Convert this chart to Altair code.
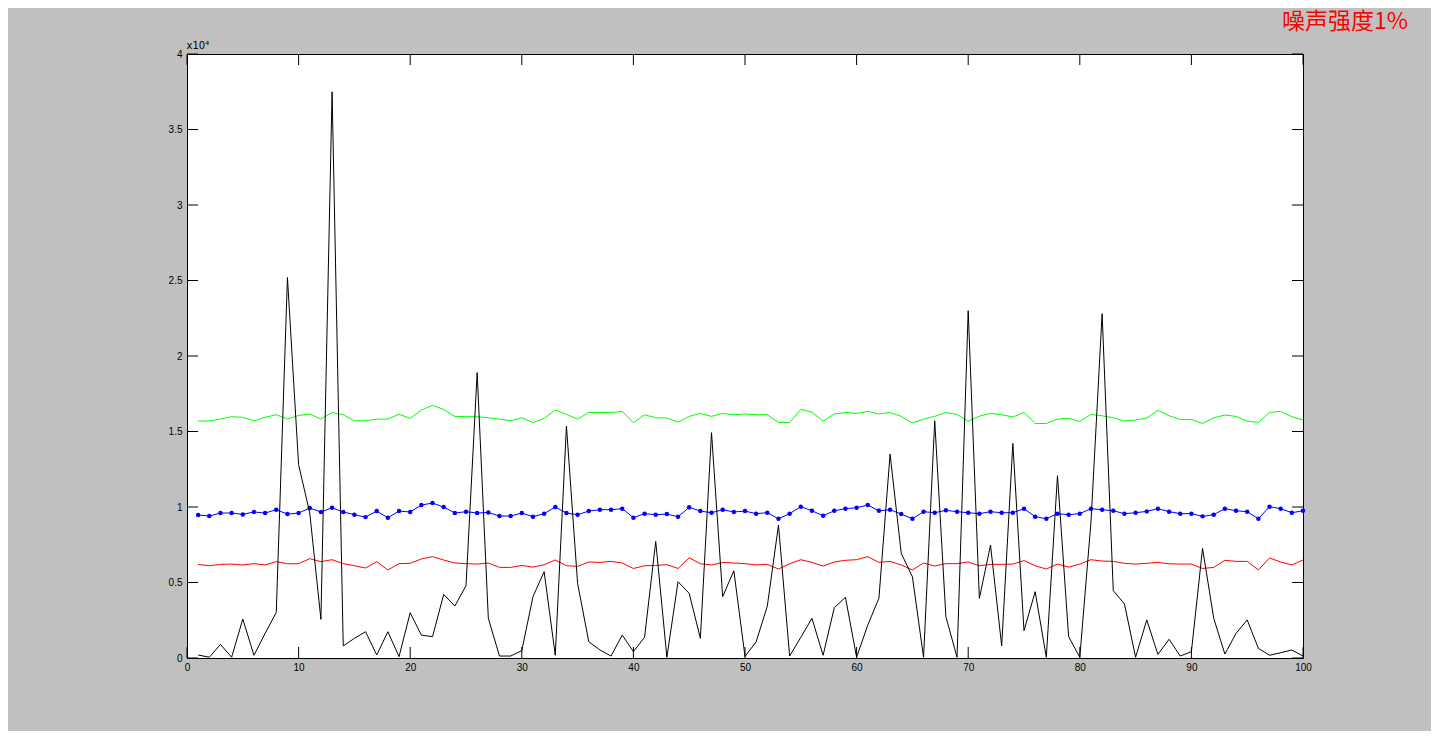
import altair as alt
import pandas as pd

x_vals = list(range(1, 101))

black = [200, 50, 900, 50, 2580, 180, 1630, 3020, 25200, 12800,
         9600, 2560, 37500, 800, 1300, 1740, 200, 1740, 90, 3000,
         1520, 1410, 4210, 3440, 4790, 18900, 2630, 130, 130, 490,
         4060, 5720, 180, 15360, 4940, 1080, 530, 130, 1520, 420,
         1370, 7720, 50, 5050, 4280, 1300, 14920, 4060, 5780, 100,
         1080, 3440, 8800, 130, 1370, 2630, 180, 3330, 4020, 50,
         2180, 3950, 13500, 6930, 5380, 50, 15710, 2740, 50, 23000,
         3950, 7480, 800, 14210, 1810, 4390, 50, 12070, 1410, 50,
         9000, 22800, 4460, 3580, 50, 2520, 240, 1240, 130, 420,
         7260, 2630, 260, 1630, 2520, 640, 180, 350, 530, 130]

green = [15690, 15700, 15820, 15980, 15940, 15710, 15940, 16110, 15820, 16060,
         16160, 15820, 16260, 16110, 15710, 15710, 15820, 15820, 16140, 15870,
         16420, 16730, 16460, 16000, 15980, 15980, 15910, 15820, 15710, 15910,
         15600, 15870, 16420, 16130, 15820, 16260, 16260, 16260, 16330, 15580,
         16110, 15910, 15890, 15620, 16000, 16200, 16000, 16200, 16110, 16160,
         16110, 16110, 15600, 15600, 16460, 16280, 15690, 16160, 16260, 16200,
         16330, 16160, 16260, 16000, 15560, 15820, 16000, 16260, 16130, 15670,
         16020, 16200, 16110, 15960, 16260, 15530, 15530, 15820, 15870, 15670,
         16130, 16040, 15910, 15690, 15760, 15890, 16400, 16040, 15800, 15800,
         15530, 15910, 16090, 16000, 15690, 15600, 16260, 16330, 15980, 15760]

blue = [9470, 9400, 9600, 9600, 9510, 9670, 9600, 9820, 9530, 9600,
        9930, 9670, 9950, 9670, 9490, 9330, 9730, 9290, 9730, 9670,
        10130, 10260, 10000, 9600, 9690, 9600, 9640, 9400, 9400, 9600,
        9360, 9560, 10000, 9600, 9490, 9730, 9820, 9820, 9890, 9290,
        9560, 9490, 9530, 9360, 9980, 9730, 9620, 9820, 9670, 9730,
        9560, 9620, 9220, 9560, 10020, 9750, 9420, 9750, 9890, 9950,
        10130, 9750, 9820, 9530, 9220, 9690, 9620, 9780, 9690, 9620,
        9560, 9690, 9620, 9620, 9890, 9360, 9220, 9560, 9490, 9560,
        9890, 9820, 9750, 9560, 9620, 9710, 9890, 9690, 9560, 9560,
        9380, 9490, 9890, 9750, 9690, 9220, 10020, 9890, 9620, 9750]

red = [6200, 6110, 6200, 6220, 6160, 6250, 6160, 6380, 6240, 6240,
       6580, 6380, 6510, 6250, 6110, 5960, 6380, 5830, 6250, 6270,
       6560, 6710, 6490, 6290, 6250, 6220, 6290, 6000, 6000, 6130,
       6020, 6180, 6490, 6110, 6070, 6360, 6330, 6400, 6290, 5930,
       6110, 6130, 6180, 5930, 6640, 6240, 6160, 6330, 6290, 6250,
       6160, 6200, 5890, 6240, 6510, 6330, 6090, 6360, 6470, 6510,
       6710, 6330, 6400, 6160, 5830, 6290, 6090, 6250, 6250, 6360,
       6110, 6200, 6200, 6220, 6450, 6110, 5890, 6220, 6020, 6220,
       6510, 6420, 6400, 6270, 6220, 6270, 6330, 6240, 6220, 6220,
       5930, 6000, 6470, 6400, 6400, 5830, 6620, 6360, 6160, 6490]

x_ticks = list(range(0, 101, 10))
y_ticks = list(range(0, 40001, 5000))
title_text = ["噪声强度1%"]

W, H = 1116, 604
TL = 11

xscale = alt.Scale(domain=[0, 100], nice=False, zero=False)
yscale = alt.Scale(domain=[0, 40000], nice=False)

xaxis = alt.Axis(values=x_ticks, ticks=False, domain=False, grid=False,
                 labelFont="Liberation Sans", labelFontSize=10, labelColor="black",
                 labelPadding=4, title=None, labelFlush=False)
yaxis = alt.Axis(values=y_ticks, ticks=False, domain=False, grid=False,
                 labelFont="Liberation Sans", labelFontSize=10, labelColor="black",
                 labelPadding=5, labelExpr="datum.value / 10000", labelFlush=False,
                 title="x10⁴", titleAngle=0, titleAlign="left", titleBaseline="bottom",
                 titleX=-1, titleY=-4, titleFont="DejaVu Sans", titleFontSize=10,
                 titleFontWeight="normal", titleColor="black")


def series_df(vals):
    return pd.DataFrame({"x": x_vals, "y": vals})


def xy(fx, fy):
    return dict(x=alt.X(fx, scale=xscale, axis=xaxis),
                y=alt.Y(fy, scale=yscale, axis=yaxis))


green_c = alt.Chart(series_df(green)).mark_line(color="#00ff00", strokeWidth=1).encode(
    **xy("x:Q", "y:Q"))
blue_c = alt.Chart(series_df(blue)).mark_line(
    color="#0000ff", strokeWidth=1,
    point=alt.OverlayMarkDef(filled=True, size=20, color="#0000ff", opacity=1),
).encode(**xy("x:Q", "y:Q"))
red_c = alt.Chart(series_df(red)).mark_line(color="#ff0000", strokeWidth=1).encode(
    **xy("x:Q", "y:Q"))
black_c = alt.Chart(series_df(black)).mark_line(color="#000000", strokeWidth=1).encode(
    **xy("x:Q", "y:Q"))

ydf = pd.DataFrame({"v": y_ticks})
xdf = pd.DataFrame({"t": x_ticks})

left_ticks = alt.Chart(ydf).mark_rule(color="black", strokeWidth=1).encode(
    y=alt.Y("v:Q", scale=yscale, axis=yaxis), x=alt.value(0), x2=alt.value(TL))
right_ticks = alt.Chart(ydf).mark_rule(color="black", strokeWidth=1).encode(
    y=alt.Y("v:Q", scale=yscale, axis=yaxis), x=alt.value(W - TL), x2=alt.value(W))
bottom_ticks = alt.Chart(xdf).mark_rule(color="black", strokeWidth=1).encode(
    x=alt.X("t:Q", scale=xscale, axis=xaxis), y=alt.value(H), y2=alt.value(H - TL))
top_ticks = alt.Chart(xdf).mark_rule(color="black", strokeWidth=1).encode(
    x=alt.X("t:Q", scale=xscale, axis=xaxis), y=alt.value(0), y2=alt.value(TL))

title_mark = alt.Chart(pd.DataFrame({"t": title_text})).mark_text(
    align="right", baseline="middle", font="Noto Sans CJK SC", fontSize=23,
    color="#ff0000",
).encode(text="t:N", x=alt.value(1221), y=alt.value(-32))

chart = alt.layer(
    green_c, blue_c, red_c, black_c, left_ticks, right_ticks, bottom_ticks, top_ticks,
    title_mark
).properties(
    width=W, height=H,
    autosize=alt.AutoSizeParams(type="none"),
    padding={"left": 179, "top": 46, "right": 128, "bottom": 73},
    background="#c0c0c0",
).configure_view(
    fill="white", stroke="black", strokeWidth=1
)

chart.save("out.html", embed_options={"renderer": "svg", "actions": False})
